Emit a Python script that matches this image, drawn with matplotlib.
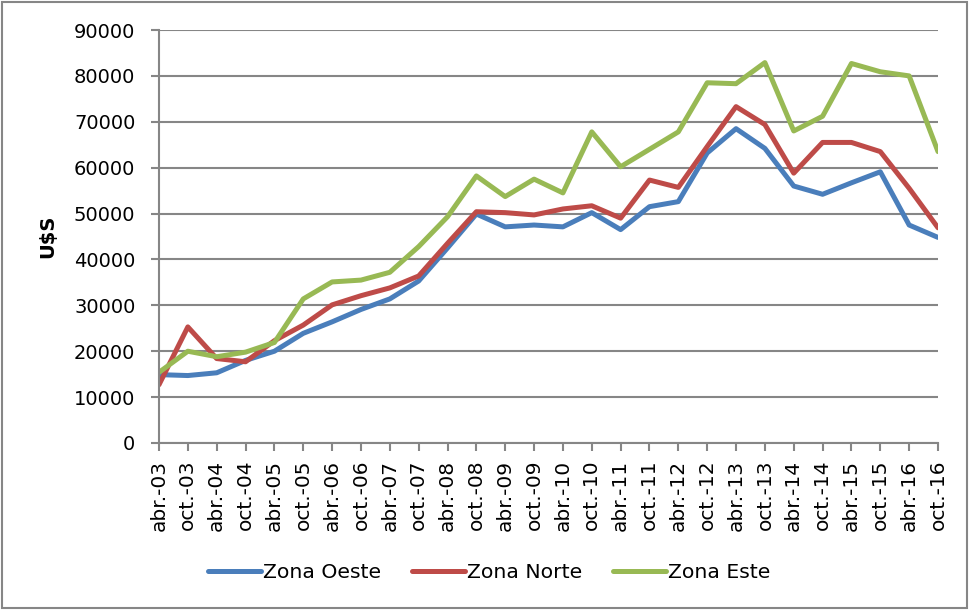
import numpy as np
import matplotlib.pyplot as plt
from matplotlib.patches import Rectangle

periods = ['abr.-03', 'oct.-03', 'abr.-04', 'oct.-04', 'abr.-05', 'oct.-05', 'abr.-06',
           'oct.-06', 'abr.-07', 'oct.-07', 'abr.-08', 'oct.-08', 'abr.-09', 'oct.-09',
           'abr.-10', 'oct.-10', 'abr.-11', 'oct.-11', 'abr.-12', 'oct.-12', 'abr.-13',
           'oct.-13', 'abr.-14', 'oct.-14', 'abr.-15', 'oct.-15', 'abr.-16', 'oct.-16']

oeste = [14900, 14700, 15300, 18000, 20000, 23900, 26400, 29100, 31400, 35300,
         42500, 49900, 47100, 47500, 47100, 50200, 46500, 51500, 52600, 63200,
         68500, 64200, 56000, 54200, 56700, 59100, 47500, 44800]
norte = [12700, 25300, 18400, 17700, 22300, 25700, 30100, 32100, 33800, 36400,
         43500, 50400, 50200, 49700, 51000, 51700, 49000, 57300, 55700, 64600,
         73300, 69400, 58800, 65500, 65500, 63500, 55500, 46900]
este = [15400, 20000, 18800, 19800, 21900, 31400, 35100, 35500, 37200, 42800,
        49300, 58200, 53700, 57500, 54500, 67800, 60200, 64000, 67800, 78500,
        78300, 82900, 68000, 71200, 82700, 80900, 80000, 63500]

series = [('Zona Oeste', oeste, '#4A7EBB'),
          ('Zona Norte', norte, '#BE4B48'),
          ('Zona Este', este, '#98B954')]

grey = '#868686'
plt.rcParams['font.family'] = 'DejaVu Sans'

fig = plt.figure(figsize=(9.7, 6.12), dpi=100)
ax = fig.add_axes([159 / 970, 1 - 443 / 612, (938 - 159) / 970, (443 - 30) / 612])

x = np.arange(len(periods))
for name, vals, col in series:
    ax.plot(x, vals, color=col, lw=3.6, label=name, solid_capstyle='round')

ax.set_xlim(0, len(periods) - 1)
ax.set_ylim(0, 90000)
ax.set_yticks(np.arange(0, 90001, 10000))
ax.set_yticklabels([str(v) for v in range(0, 90001, 10000)], fontsize=14)
ax.set_xticks(x)
ax.set_xticklabels(periods, rotation=90, fontsize=14.5)
ax.yaxis.grid(True, color=grey, lw=1.5)
ax.set_axisbelow(True)
for s in ['top', 'right']:
    ax.spines[s].set_visible(False)
for s in ['left', 'bottom']:
    ax.spines[s].set_color(grey)
    ax.spines[s].set_linewidth(1.5)
ax.tick_params(axis='both', color=grey, width=1.5, length=6)
ax.tick_params(axis='y', pad=11)
ax.tick_params(axis='x', pad=6)
ax.set_ylabel('U$S', fontsize=14, fontweight='bold', labelpad=12)

fig.legend(loc='center', bbox_to_anchor=(489 / 970, 1 - 573 / 612), ncol=3,
           frameon=False, fontsize=14.7, handlelength=2.6, handletextpad=0.1,
           columnspacing=1.5)

fig.patches.append(Rectangle((2 / 970, 4 / 612), 965 / 970, 606 / 612,
                             transform=fig.transFigure, fill=False,
                             edgecolor=grey, lw=1.5))

fig.savefig('out.png', dpi=100)
